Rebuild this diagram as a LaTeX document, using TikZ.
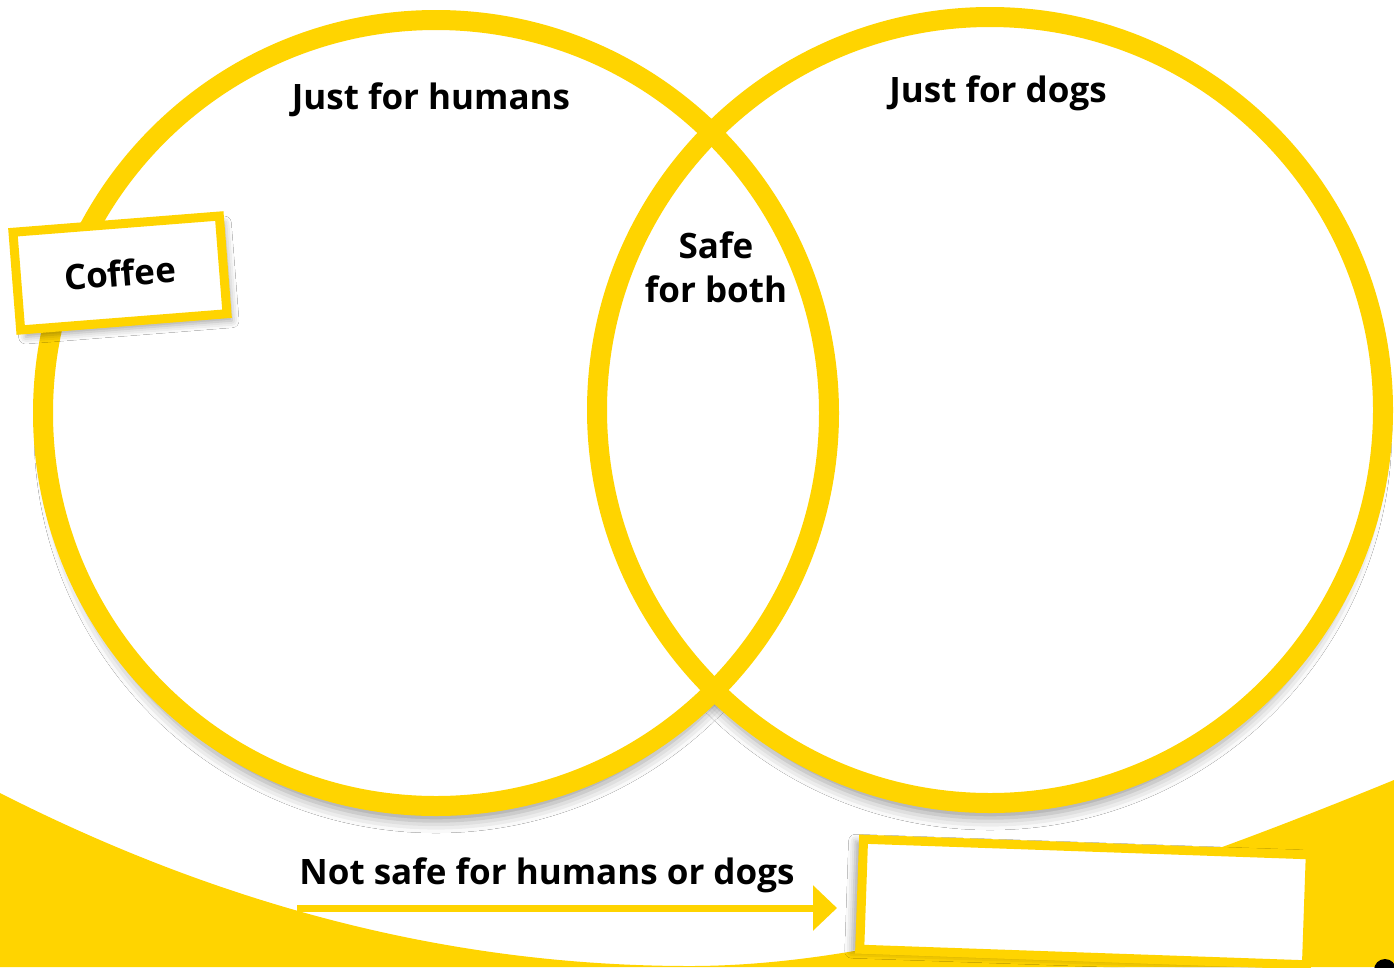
\documentclass[tikz,border=0pt]{standalone}
\usepackage{fontspec}
\setmainfont{Open Sans}
\usetikzlibrary{shadows.blur,arrows.meta}
\definecolor{vyellow}{RGB}{255,212,0}
\begin{document}
\begin{tikzpicture}[x=1pt,y=-1pt,
  lbl/.style={font=\fontsize{35}{44}\selectfont\bfseries, text=black, inner sep=0pt, align=center},
  ring/.style={draw=vyellow, line width=20pt},
  csh/.style={blur shadow={shadow xshift=0pt, shadow yshift=-18pt, shadow blur radius=12pt, shadow opacity=40}},
  tagbox/.style={draw=vyellow, line width=9pt, fill=white, inner sep=0pt}]
\useasboundingbox (0,0) rectangle (1394,967);
\fill[white] (0,0) rectangle (1394,967);
% bottom yellow ground
\fill[vyellow] (0,793) .. controls (250,920) and (480,966) .. (690,966)
  .. controls (900,966) and (1150,880) .. (1394,780) -- (1394,967) -- (0,967) -- cycle;
% circle shadows
\fill[white, csh] (436,413) circle (390);
\fill[white, csh] (990,410) circle (390);
\fill[white] (436,413) circle (402);
\fill[white] (990,410) circle (402);
% rings
\draw[ring] (436,413) circle (393);
\draw[ring] (990,410) circle (393);
% labels
\node[lbl] (humans) at (431,100) {Just for humans};
\node[lbl] (dogs) at (998,93) {Just for dogs};
\node[lbl] (both) at (716,267) {Safe\\for both};
% coffee tag
\node[tagbox, minimum width=207pt, minimum height=98pt, rotate=4.5,
  blur shadow={shadow xshift=5pt, shadow yshift=-7pt, shadow blur radius=7pt, shadow opacity=35}]
  (coffee) at (120,273) {};
\node[lbl, rotate=4.5] (coffeetxt) at (coffee.center) {Coffee};
% answer box
\node[tagbox, minimum width=447pt, minimum height=110pt, rotate=-2,
  blur shadow={shadow xshift=-8pt, shadow yshift=-2pt, shadow blur radius=7pt, shadow opacity=35}]
  (answer) at (1085,902) {};
% bottom label and arrow
\node[lbl] (notsafe) at (547,875) {Not safe for humans or dogs};
\coordinate (arrS) at (297,908);
\coordinate (arrE) at (837,908);
\draw[vyellow, line width=7pt, -{Triangle[length=24pt,width=44pt]}] (arrS) -- (arrE);
% corner dot
\fill[black] (1385,970) circle (11);
\end{tikzpicture}
\end{document}
